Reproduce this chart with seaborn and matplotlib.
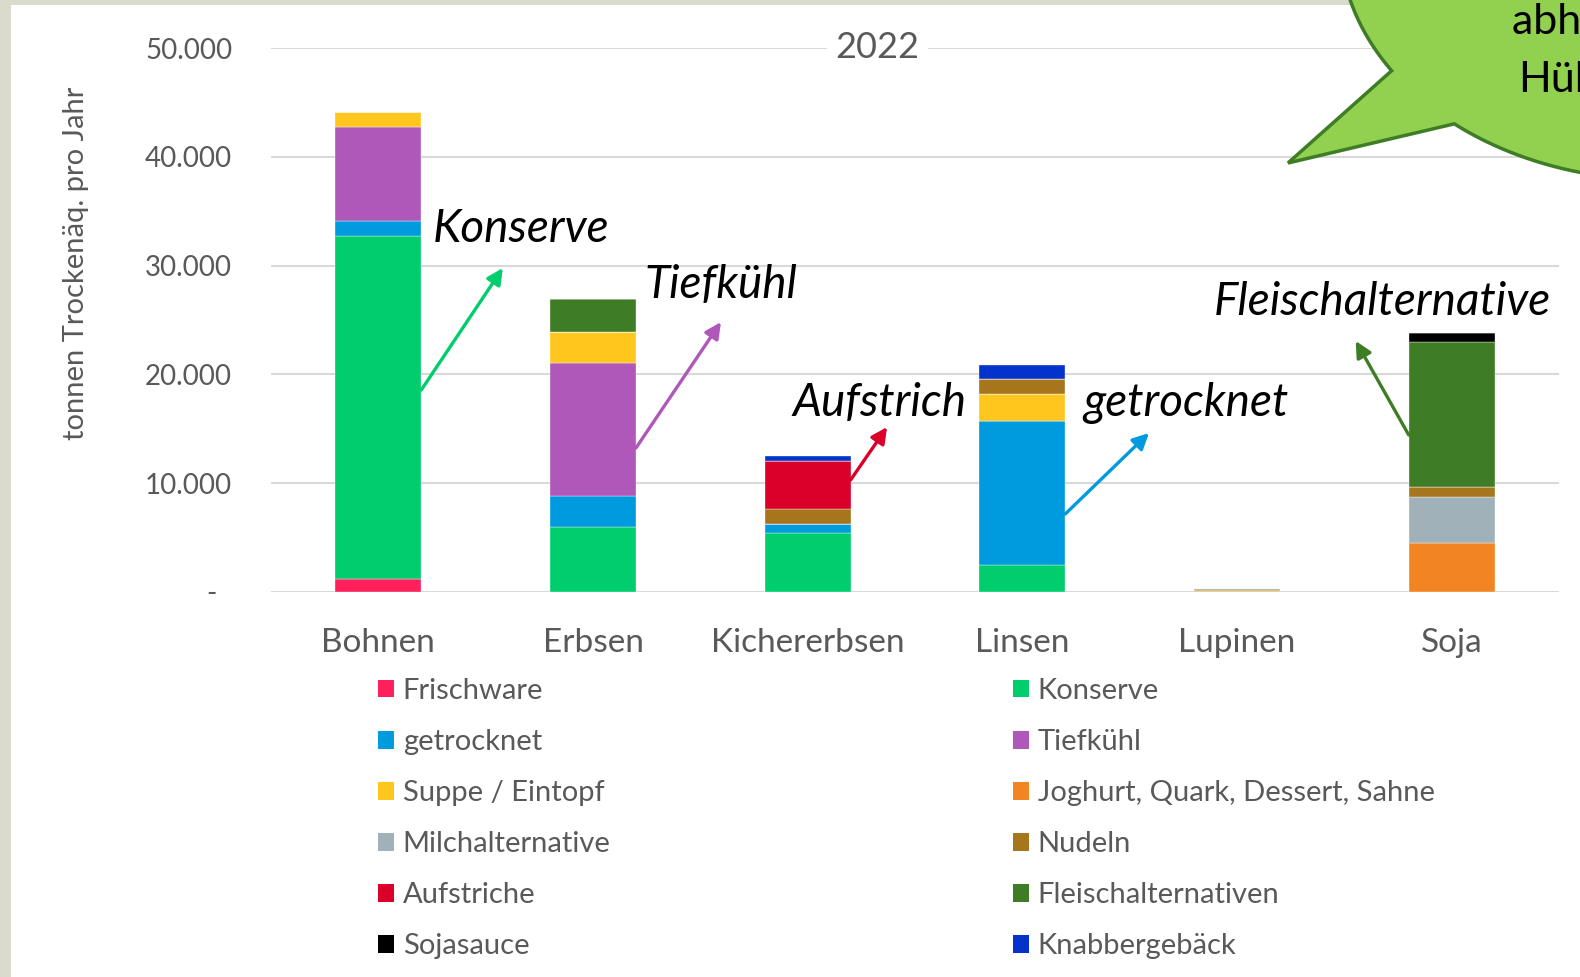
import numpy as np
import pandas as pd
import matplotlib
matplotlib.use("Agg")
import matplotlib.pyplot as plt
import seaborn as sns
from matplotlib.patches import Patch, Polygon

# Daten (tonnen Trockenäquivalent pro Jahr, 2022)
kategorien = ["Bohnen", "Erbsen", "Kichererbsen", "Linsen", "Lupinen", "Soja"]

frischware = [1140, 0, 0, 0, 0, 0]
konserve = [31580, 5980, 5370, 2430, 0, 0]
getrocknet = [1410, 2800, 830, 13270, 0, 0]
tiefkuehl = [8650, 12290, 0, 0, 0, 0]
suppe = [1350, 2790, 0, 2490, 0, 0]
joghurt = [0, 0, 0, 0, 80, 4480]
milchalternative = [0, 0, 0, 0, 0, 4230]
nudeln = [0, 0, 1410, 1350, 60, 890]
aufstriche = [0, 0, 4410, 0, 0, 0]
fleischalternativen = [0, 3090, 0, 0, 110, 13370]
sojasauce = [0, 0, 0, 0, 0, 830]
knabbergebaeck = [0, 0, 440, 1320, 0, 0]

produkte = ["Frischware", "Konserve", "getrocknet", "Tiefkühl", "Suppe / Eintopf",
            "Joghurt, Quark, Dessert, Sahne", "Milchalternative", "Nudeln",
            "Aufstriche", "Fleischalternativen", "Sojasauce", "Knabbergebäck"]
werte = [frischware, konserve, getrocknet, tiefkuehl, suppe, joghurt,
         milchalternative, nudeln, aufstriche, fleischalternativen, sojasauce,
         knabbergebaeck]
farben = ["#FF1F5B", "#00CD6C", "#009ADE", "#AF58BA", "#FFC61E", "#F28522",
          "#A0B1BA", "#A6761D", "#DA0029", "#3E7D26", "#000000", "#0433CC"]

y_ticks = [0, 10000, 20000, 30000, 40000, 50000]
y_ticklabels = ["-  ", "10.000", "20.000", "30.000", "40.000", "50.000"]

grau = "#595959"

# long format für seaborn
rows = []
for p, w in zip(produkte, werte):
    for k, v in zip(kategorien, w):
        rows.append({"Kategorie": k, "Produkt": p, "Wert": v})
df = pd.DataFrame(rows)
df["Kategorie"] = pd.Categorical(df["Kategorie"], categories=kategorien)

sns.set_style("white")
plt.rcParams["font.family"] = ["Lato", "DejaVu Sans"]

W, H = 1580, 977
fig = plt.figure(figsize=(W / 100, H / 100), dpi=100)
fig.patch.set_facecolor("#DBDBCD")

# weisser Hintergrund (Folie)
bg = fig.add_axes([11 / W, 0, 1, (H - 5) / H])
bg.set_axis_off()
bg.add_patch(plt.Rectangle((0, 0), 1, 1, transform=bg.transAxes, color="white"))

ax = fig.add_axes([271 / W, 385.3 / H, 1288 / W, 543.4 / H])
ax.patch.set_alpha(0)

sns.histplot(data=df, x="Kategorie", weights="Wert", hue="Produkt",
             hue_order=produkte[::-1], palette=dict(zip(produkte, farben)),
             multiple="stack", discrete=True, shrink=0.4, alpha=1,
             edgecolor="white", linewidth=0.25, legend=False, ax=ax)

ax.set_xlim(-0.5, 5.5)
ax.set_ylim(0, 50000)
ax.set_yticks(y_ticks)
ax.set_yticklabels(y_ticklabels)
ax.set_xticks(range(len(kategorien)))
ax.set_xticklabels(kategorien)
ax.tick_params(axis="y", length=0, pad=28, labelsize=20, labelcolor=grau)
ax.tick_params(axis="x", length=0, pad=26, labelsize=24, labelcolor=grau)
ax.set_xlabel("")
ax.set_ylabel("")
ax.yaxis.grid(True, color="#D9D9D9", lw=1.5)
ax.set_axisbelow(True)
sns.despine(ax=ax, left=True, bottom=True)

fig.text(76 / W, 1 - 263 / H, "tonnen Trockenäq. pro Jahr", rotation=90,
         ha="center", va="center", fontsize=21, color=grau)
fig.text(877.5 / W, 1 - 47 / H, "2022", ha="center", va="center", fontsize=26,
         color=grau, bbox=dict(facecolor="white", edgecolor="none", pad=6))

# Hinweise mit Pfeilen
hinweise = [
    ("Konserve", (0.255, 33400), (0.20, 18560), (0.58, 29780), "#00CD6C"),
    ("Tiefkühl", (1.242, 28200), (1.20, 13220), (1.596, 24810), "#AF58BA"),
    ("Aufstrich", (1.927, 17360), (2.20, 10280), (2.37, 15150), "#DA0029"),
    ("getrocknet", (3.282, 17360), (3.20, 7150), (3.59, 14600), "#009ADE"),
    ("Fleischalternative", (3.892, 26650), (4.80, 14420), (4.553, 23070), "#3E7D26"),
]
for txt, pos, start, ende, c in hinweise:
    ax.annotate("", xy=ende, xytext=start,
                arrowprops=dict(arrowstyle="-|>", color=c, lw=2.4,
                                mutation_scale=24, shrinkA=0, shrinkB=0),
                annotation_clip=False)
    ax.text(pos[0], pos[1], txt, ha="left", va="center", fontsize=33,
            style="italic", color="black")

# Legende in zwei Spalten
handles = [Patch(facecolor=c, edgecolor="none") for c in farben]
for spalte, x0 in [(0, 378), (1, 1013)]:
    idx = list(range(spalte, len(produkte), 2))
    leg = fig.legend([handles[i] for i in idx], [produkte[i] for i in idx],
                     loc="upper left", bbox_to_anchor=(x0 / W, 1 - 678 / H),
                     frameon=False, fontsize=21, handlelength=0.55,
                     handleheight=0.55, handletextpad=0.3, labelspacing=0.86,
                     borderpad=0, borderaxespad=0)
    for t in leg.get_texts():
        t.set_color(grau)

# Sprechblase oben rechts
ov = fig.add_axes([0, 0, 1, 1])
ov.set_xlim(0, W)
ov.set_ylim(H, 0)
ov.set_axis_off()
ov.patch.set_alpha(0)
theta = np.radians(np.linspace(147, 490, 200))
pts = np.column_stack([1660 + 320 * np.cos(theta), -60 + 240 * np.sin(theta)])
pts = np.vstack([pts, [[1288, 163]]])
ov.add_patch(Polygon(pts, closed=True, facecolor="#92D050", edgecolor="#3E7D26",
                     lw=2.5, clip_on=False))
ov.text(1512, 22, "abhängig von", ha="left", va="center", fontsize=31,
        color="black", clip_on=False)
ov.text(1518, 80, "Hülsenfrüchten", ha="left", va="center", fontsize=31,
        color="black", clip_on=False)

plt.savefig("out.png", dpi=100)
plt.close("all")
